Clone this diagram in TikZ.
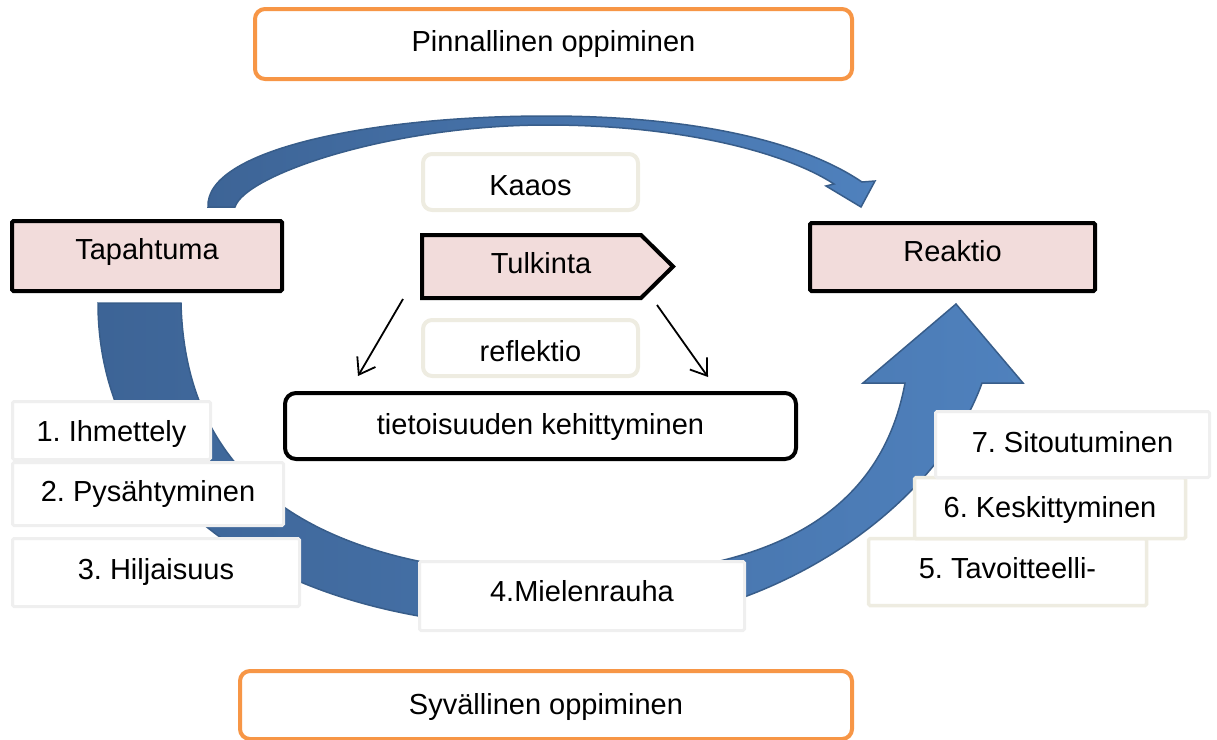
\documentclass[tikz,border=0pt]{standalone}
\usepackage{fontspec}
\setmainfont{Liberation Sans}
\usetikzlibrary{arrows.meta}
\frenchspacing
\definecolor{orangeb}{HTML}{F79646}
\definecolor{pinkf}{HTML}{F2DCDB}
\definecolor{grayb}{HTML}{EFEFEF}
\definecolor{beigeb}{HTML}{EEECE1}
\definecolor{bluedark}{HTML}{3D6496}
\definecolor{bluelight}{HTML}{4F81BD}
\definecolor{blueline}{HTML}{385D8A}
\begin{document}
\begin{tikzpicture}[x=1pt,y=-1pt,
  font=\fontsize{29}{34}\selectfont\frenchspacing,
  every node/.style={inner sep=0pt, outer sep=0pt},
  tv/.style={text height=#1, text depth=0pt},
  orangebox/.style={draw=orangeb, line width=4pt, rounded corners=10pt, fill=white},
  keybox/.style={draw=black, line width=4pt, rounded corners=1.5pt, fill=pinkf},
  beigeround/.style={draw=beigeb, line width=4pt, rounded corners=9pt, fill=white},
  blackround/.style={draw=black, line width=4pt, rounded corners=11pt, fill=white},
  graybox/.style={draw=grayb, line width=3pt, rounded corners=1.5pt, fill=white},
  beigebox/.style={draw=beigeb, line width=3.5pt, rounded corners=1.5pt, fill=white},
  bigarrow/.style={draw=blueline, line width=1.5pt, left color=bluedark, right color=bluelight},
  thinarrow/.style={draw=black, line width=1.8pt, -{Straight Barb[length=15pt,width=21pt]}}
]
\useasboundingbox (0,0) rectangle (1217,739);
\clip (0,0) rectangle (1217,739);

% top curved arrow
\path[bigarrow] (208,207) .. controls (205,150) and (370,116) .. (547,116)
  .. controls (690,116) and (800,140) .. (862,182)
  -- (875,181) -- (861,207) -- (826,186) -- (834,184)
  .. controls (785,152) and (680,125) .. (547,125)
  .. controls (390,125) and (245,175) .. (235,207) -- cycle;

% bottom big arrow
\path[bigarrow] (98,303) -- (181,303)
  .. controls (185,470) and (300,575) .. (575,576)
  .. controls (760,576) and (880,520) .. (905,383)
  -- (863,383) -- (956,304) -- (1023,383) -- (982,383)
  .. controls (940,500) and (780,628) .. (570,628)
  .. controls (250,630) and (98,480) .. (98,303) -- cycle;

% top and bottom orange boxes
\node[orangebox, minimum width=597pt, minimum height=70pt, tv=14.8pt] (pin) at (553.5,44) {Pinnallinen oppiminen};
\node[orangebox, minimum width=612pt, minimum height=68pt, tv=18.8pt] (syv) at (546,705) {Syvällinen oppiminen};

% key boxes
\node[keybox, minimum width=270pt, minimum height=70pt, tv=6.8pt] (tap) at (147,256) {Tapahtuma};
\node[keybox, minimum width=285pt, minimum height=68pt, tv=8.8pt] (rea) at (952.5,257) {Reaktio};

% Tulkinta pentagon
\draw[draw=black, line width=4pt, fill=pinkf, line join=miter]
  (422,235) -- (641,235) -- (673,266.5) -- (641,298) -- (422,298) -- cycle;
\node[tv=13.8pt] (tul) at (541,266.5) {Tulkinta};

% center rounded boxes
\node[beigeround, minimum width=215pt, minimum height=56pt, tv=26.8pt] (kaa) at (530.5,182) {Kaaos};
\node[beigeround, minimum width=215pt, minimum height=56pt, tv=26.8pt] (ref) at (530.5,348) {reflektio};
\node[blackround, minimum width=511pt, minimum height=66pt, tv=16.8pt] (tie) at (540.5,426) {tietoisuuden kehittyminen};

% thin arrows
\coordinate (la) at (403,299);
\coordinate (lb) at (358,376);
\coordinate (ra) at (657,305);
\coordinate (rb) at (708,377);
\draw[thinarrow] (la) -- (lb);
\draw[thinarrow] (ra) -- (rb);

% stage boxes
\node[graybox, minimum width=198pt, minimum height=58pt, tv=22.8pt] (s1) at (111.5,430.5) {1. Ihmettely};
\node[graybox, minimum width=271pt, minimum height=63pt, tv=14.8pt] (s2) at (148,494) {2. Pysähtyminen};
\node[graybox, minimum width=287pt, minimum height=68pt, tv=13.8pt] (s3) at (156,572.5) {3. Hiljaisuus};
\node[graybox, minimum width=325pt, minimum height=69pt, tv=10.8pt] (s4) at (582,596) {4.Mielenrauha};
\node[beigebox, minimum width=278pt, minimum height=67pt, tv=12.8pt] (s5) at (1007.5,572) {5. Tavoitteelli-};
\node[beigebox, minimum width=271pt, minimum height=61pt, tv=18.8pt] (s6) at (1050,508) {6. Keskittyminen};
\node[graybox, minimum width=274pt, minimum height=66pt, tv=15.8pt] (s7) at (1072.5,444.5) {7. Sitoutuminen};
\end{tikzpicture}
\end{document}
